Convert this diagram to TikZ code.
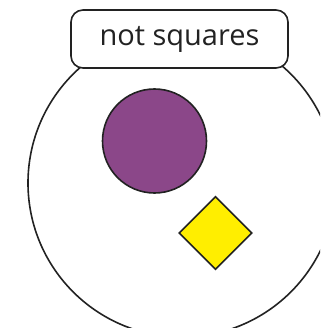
\documentclass[tikz,border=0pt]{standalone}
\usepackage{fontspec}
\setmainfont{Open Sans}
\usetikzlibrary{shapes.geometric,positioning}
\definecolor{ink}{HTML}{222222}
\definecolor{plum}{HTML}{8B4789}
\definecolor{lemon}{HTML}{FFEE00}

\begin{document}
\begin{tikzpicture}[
    x=1pt,y=-1pt,
    outline/.style={draw=ink,line width=1.6pt},
    bowl/.style={outline,circle,fill=white,minimum size=308pt,inner sep=0pt},
    blob/.style={outline,circle,fill=plum,minimum size=104pt,inner sep=0pt},
    gem/.style={outline,diamond,fill=lemon,minimum width=73pt,minimum height=73pt,inner sep=0pt},
    tagbox/.style={outline,fill=white,rounded corners=12pt,minimum width=217pt,minimum height=58pt,
                   inner sep=0pt,font=\fontsize{29}{34}\selectfont,text=ink}
  ]
    \clip (0,0) rectangle (320,328);
    \node[bowl] (set) at (182,183) {};
    \node[blob] (circ) at (154.5,141) {};
    \node[gem] (dia) at (215.5,233) {};
    \node[tagbox] (tag) at (179.5,39) {not squares};
\end{tikzpicture}
\end{document}
